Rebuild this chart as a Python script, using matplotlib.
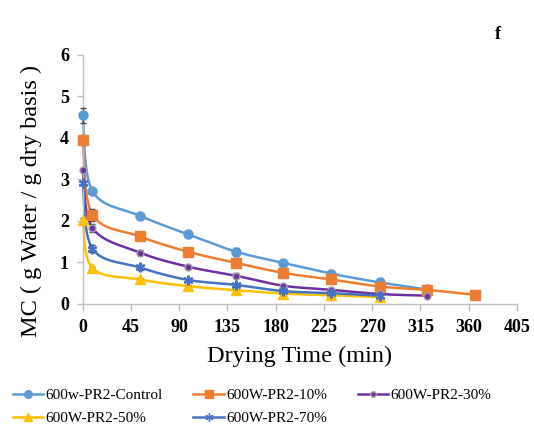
import numpy as np
import matplotlib
matplotlib.use("Agg")
import matplotlib.pyplot as plt

plt.rcParams['font.family'] = ['Liberation Serif', 'DejaVu Serif']

labels = ["600w-PR2-Control", "600W-PR2-10%", "600W-PR2-30%", "600W-PR2-50%", "600W-PR2-70%"]
t_control = [0, 9, 53, 98, 143, 187, 232, 277, 321]
mc_control = [4.55, 2.72, 2.13, 1.68, 1.26, 0.99, 0.73, 0.52, 0.35]
err_control = [0.18, 0.06, 0.05, 0.05, 0.1, 0.05, 0.04, 0.04, 0.03]

t_10 = [0, 9, 53, 98, 143, 187, 232, 277, 321, 366]
mc_10 = [3.95, 2.15, 1.63, 1.26, 0.99, 0.75, 0.59, 0.42, 0.34, 0.22]
err_10 = [0.12, 0.15, 0.1, 0.08, 0.05, 0.04, 0.04, 0.03, 0.03, 0.02]

t_30 = [0, 9, 53, 98, 143, 187, 232, 277, 321]
mc_30 = [3.23, 1.83, 1.24, 0.9, 0.68, 0.44, 0.34, 0.24, 0.2]
err_30 = [0.05, 0.1, 0.06, 0.05, 0.06, 0.05, 0.04, 0.03, 0.02]

t_50 = [0, 9, 53, 98, 143, 187, 232, 277]
mc_50 = [2.03, 0.86, 0.59, 0.43, 0.33, 0.25, 0.21, 0.17]
err_50 = [0.05, 0.04, 0.03, 0.03, 0.02, 0.02, 0.02, 0.02]

t_70 = [0, 9, 53, 98, 143, 187, 232, 277]
mc_70 = [2.92, 1.33, 0.88, 0.58, 0.46, 0.31, 0.26, 0.2]
err_70 = [0.05, 0.08, 0.05, 0.05, 0.04, 0.03, 0.03, 0.02]

x_ticks = [0, 45, 90, 135, 180, 225, 270, 315, 360, 405]
y_ticks = [0, 1, 2, 3, 4, 5, 6]

series = [
    (t_control, mc_control, err_control, '#5B9BD5', 'o', 6.5, '#5B9BD5'),
    (t_10, mc_10, err_10, '#ED7D31', 's', 6.5, '#ED7D31'),
    (t_30, mc_30, err_30, '#7030A0', 'o', 5, '#A6A6A6'),
    (t_50, mc_50, err_50, '#FFC000', '^', 6.5, '#FFC000'),
    (t_70, mc_70, err_70, '#4472C4', (6, 2, 0), 7, '#4472C4'),
]


def smooth(x, y, n=30):
    # parametric Catmull-Rom (Excel-like smoothing)
    P = np.column_stack([x, y]).astype(float)
    sx, sy = 1.072, 41.5
    Q = P * [sx, sy]
    pts = [Q[0]] + list(Q) + [Q[-1]]
    out = []
    for i in range(1, len(pts) - 2):
        p0, p1, p2, p3 = pts[i - 1], pts[i], pts[i + 1], pts[i + 2]
        c1 = p1 + (p2 - p0) / 6.0
        c2 = p2 - (p3 - p1) / 6.0
        s = np.linspace(0, 1, n)[:, None]
        b = (1 - s) ** 3 * p1 + 3 * (1 - s) ** 2 * s * c1 + 3 * (1 - s) * s ** 2 * c2 + s ** 3 * p2
        out.append(b)
    B = np.vstack(out) / [sx, sy]
    return B[:, 0], B[:, 1]


fig = plt.figure(figsize=(5.34, 4.33), dpi=100)
ax = fig.add_axes([0.155, 0.298, 0.813, 0.575])

handles = []
for (t, v, e, c, m, ms, ec), lab in zip(series, labels):
    sx_, sy_ = smooth(t, v)
    ax.plot(sx_, sy_, color=c, lw=1.8, zorder=2, clip_on=False)
    ax.errorbar(t, v, yerr=e, fmt='none', ecolor='#404040', elinewidth=0.8, capsize=2, zorder=3, clip_on=False)
    ax.plot(t, v, ls='none', marker=m, ms=ms, mfc=c, mec=ec, mew=1.0 if m != (6, 2, 0) else 1.5,
            zorder=4, clip_on=False)
    h, = ax.plot([], [], color=c, lw=1.8, marker=m, ms=ms - 1, mfc=c, mec=ec, label=lab)
    handles.append(h)

ax.set_xlim(0, 405)
ax.set_ylim(0, 6)
ax.set_xticks(x_ticks)
ax.set_yticks(y_ticks)
for s in ['top', 'right']:
    ax.spines[s].set_visible(False)
for s in ['left', 'bottom']:
    ax.spines[s].set_color('#BFBFBF')
    ax.spines[s].set_linewidth(1.0)
ax.tick_params(axis='both', color='#BFBFBF', length=5, width=1.0, labelsize=13)
ax.tick_params(axis='x', pad=6)
ax.tick_params(axis='y', length=4, pad=6)
for lbl in ax.get_xticklabels() + ax.get_yticklabels():
    lbl.set_fontweight('bold')

ax.set_xlabel('Drying Time (min)', fontsize=17.5)
ax.xaxis.set_label_coords(0.5, -0.168)
ax.set_ylabel('MC ( g Water / g dry basis )', fontsize=17.5)
ax.yaxis.set_label_coords(-0.094, 0.414)
fig.text(0.933, 0.91, 'f', fontsize=13, fontweight='bold', ha='center')

order = [0, 3, 1, 4, 2]
fig.legend(handles=[handles[i] for i in order], loc='lower left', bbox_to_anchor=(-0.002, -0.014), ncol=3,
           frameon=False, fontsize=11, handlelength=2.0, columnspacing=2.0,
           handletextpad=0.15, labelspacing=0.62)

fig.savefig('out.png', dpi=100)
